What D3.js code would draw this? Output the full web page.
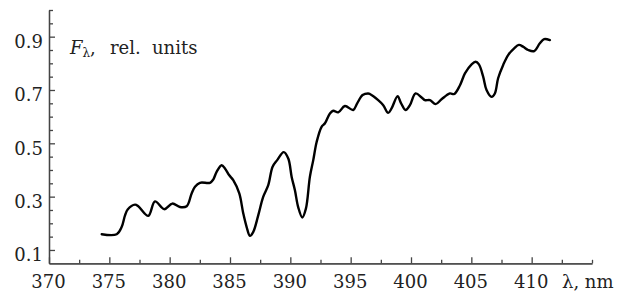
<!DOCTYPE html>
<html>
<head>
<meta charset="utf-8">
<script src="https://cdn.jsdelivr.net/npm/d3@7"></script>
<style>
  html, body { margin: 0; padding: 0; background: #fff; }
  svg { display: block; }
  text { font-family: "DejaVu Serif", "Liberation Serif", serif; fill: #222; }
</style>
</head>
<body>
<svg id="chart" width="629" height="296"></svg>
<script>
// Data
const wavelength = [374.37, 375.61, 376.02, 376.30, 376.52, 377.13, 377.40, 378.23, 378.78, 379.55,
  380.22, 380.85, 381.41, 381.82, 382.10, 382.51, 383.34, 383.61, 383.89, 384.31,
  384.58, 384.94, 385.27, 385.77, 386.10, 386.38, 386.65, 386.93, 387.34, 387.75,
  388.17, 388.53, 388.91, 389.45, 389.83, 390.11, 390.38, 390.65, 390.99, 391.29,
  391.62, 391.90, 392.18, 392.59, 392.87, 393.28, 393.55, 393.97, 394.52, 395.21,
  395.54, 395.99, 396.45, 396.59, 397.28, 397.70, 398.11, 398.39, 398.89, 399.16,
  399.55, 399.91, 400.38, 400.88, 401.15, 401.57, 402.04, 402.53, 403.22, 403.58,
  404.05, 404.47, 405.02, 405.35, 405.63, 405.98, 406.26, 406.68, 406.95, 407.22,
  407.64, 408.05, 408.55, 408.94, 409.30, 409.71, 410.21, 410.68, 411.04, 411.51];
const flux = [0.159, 0.159, 0.186, 0.230, 0.252, 0.270, 0.264, 0.228, 0.282, 0.253,
  0.274, 0.261, 0.264, 0.312, 0.337, 0.352, 0.352, 0.364, 0.393, 0.418,
  0.406, 0.380, 0.362, 0.312, 0.237, 0.186, 0.153, 0.168, 0.230, 0.299,
  0.343, 0.412, 0.437, 0.467, 0.443, 0.374, 0.324, 0.261, 0.222, 0.255,
  0.374, 0.437, 0.505, 0.562, 0.575, 0.612, 0.622, 0.616, 0.640, 0.625,
  0.650, 0.681, 0.687, 0.685, 0.662, 0.643, 0.614, 0.631, 0.677, 0.652,
  0.625, 0.643, 0.687, 0.672, 0.662, 0.662, 0.647, 0.665, 0.687, 0.685,
  0.717, 0.762, 0.796, 0.806, 0.796, 0.750, 0.700, 0.674, 0.687, 0.744,
  0.794, 0.831, 0.856, 0.869, 0.862, 0.850, 0.846, 0.875, 0.891, 0.887];

const xMajorTicks = [370, 375, 380, 385, 390, 395, 400, 405, 410];
const xMinorTicks = [372.5, 377.5, 382.5, 387.5, 392.5, 397.5, 402.5, 407.5, 412.5, 415];
const yMajorTicks = [0.1, 0.3, 0.5, 0.7, 0.9];
const yMinorTicks = [0.15, 0.2, 0.25, 0.35, 0.4, 0.45, 0.55, 0.6, 0.65, 0.75, 0.8, 0.85, 0.95, 1.0];
const xDomain = [370, 415];
const yDomain = [0.05, 1.0];
const xAxisTitle = "λ, nm";

const svg = d3.select("#chart");
const x = d3.scaleLinear().domain(xDomain).range([49, 592]);
const y = d3.scaleLinear().domain(yDomain).range([263.3, 10]);

const axisColor = "#444";

// X axis
const gx = svg.append("g").attr("transform", `translate(0,${y(yDomain[0])})`);
gx.call(d3.axisBottom(x).tickValues(xMinorTicks).tickSizeInner(-3.5).tickSizeOuter(0).tickFormat(""));
const gx2 = svg.append("g").attr("transform", `translate(0,${y(yDomain[0])})`);
gx2.call(d3.axisBottom(x).tickValues(xMajorTicks).tickSizeInner(-6).tickSizeOuter(0).tickFormat(d3.format("d")));
gx2.selectAll(".tick text").attr("y", 0).attr("dy", 0).attr("transform", "translate(-1,25)")
  .style("font-size", "18px").style("font-family", '"DejaVu Serif", serif').attr("fill", "#222");

// Y axis
const gy = svg.append("g").attr("transform", `translate(${x(xDomain[0])},0)`);
gy.call(d3.axisLeft(y).tickValues(yMinorTicks).tickSizeInner(-4).tickSizeOuter(0).tickFormat(""));
const gy2 = svg.append("g").attr("transform", `translate(${x(xDomain[0])},0)`);
gy2.call(d3.axisLeft(y).tickValues(yMajorTicks).tickSizeInner(-6).tickSizeOuter(0).tickFormat(d3.format(".1f")));
gy2.selectAll(".tick text").attr("x", -6).attr("dy", "10.8px")
  .style("font-size", "18px").style("font-family", '"DejaVu Serif", serif').attr("fill", "#222");

svg.selectAll(".domain, .tick line").attr("stroke", axisColor).attr("stroke-width", 1.3);

// Curve
const pts = wavelength.map((w, i) => [w, flux[i]]);
const line = d3.line().x(d => x(d[0])).y(d => y(d[1])).curve(d3.curveCatmullRom.alpha(0.5));
svg.append("path").datum(pts).attr("d", line)
  .attr("fill", "none").attr("stroke", "#000").attr("stroke-width", 2.4)
  .attr("stroke-linejoin", "round").attr("stroke-linecap", "round");

// Axis title (x)
svg.append("text").attr("x", 562).attr("y", 288).style("font-size", "18px").text(xAxisTitle);

// Y title
const t = svg.append("text").attr("x", 70).attr("y", 54).style("font-size", "18px");
t.append("tspan").style("font-style", "italic").text("F");
t.append("tspan").attr("dy", 3).style("font-size", "12px").text("λ");
t.append("tspan").attr("dy", -3).text(",");
t.append("tspan").attr("x", 110).text("rel.");
t.append("tspan").attr("x", 152).text("units");
</script>
</body>
</html>
